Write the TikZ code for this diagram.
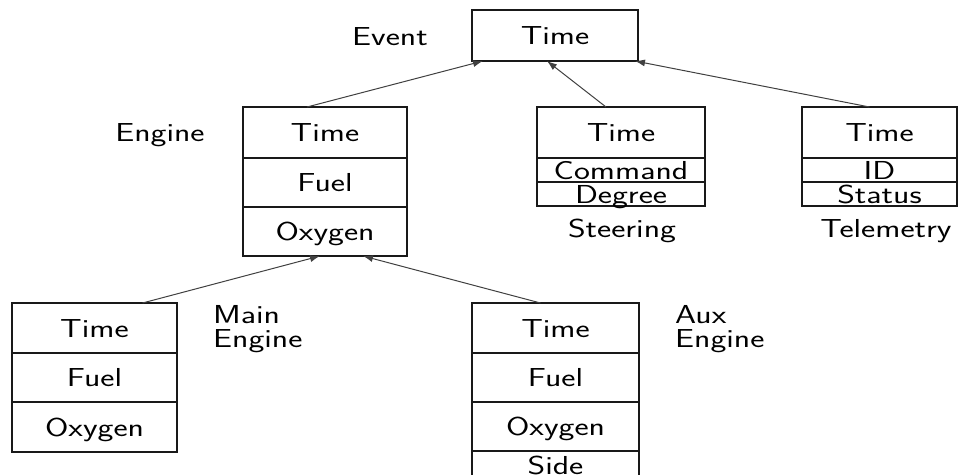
\documentclass[tikz,border=0pt]{standalone}
\usetikzlibrary{arrows.meta}
\newcommand\lbl{\sffamily\fontsize{26}{24}\selectfont}
\newcommand\hs[1]{\scalebox{1.3}[1]{#1}}
\begin{document}
\begin{tikzpicture}[x=1pt,y=-1pt,
  cell/.style={draw=black!90, line width=1.4pt, inner sep=0pt, outer sep=0pt, font=\lbl,
               text height=19pt, text depth=1pt},
  lab/.style={inner sep=0pt, font=\lbl, text=black},
  link/.style={draw=black!75, line width=1pt, -{Latex[length=10pt,width=7pt]}}]
\clip (0,0) rectangle (958,474);
\useasboundingbox (0,0) rectangle (958,474);
% Event
\node[cell, minimum width=166, minimum height=51] (ev) at (555,35.5) {\hs{Time}};
\node[lab, anchor=base] (evl) at (390,45) {\hs{Event}};
% Engine
\node[cell, minimum width=164, minimum height=51] (engT) at (325,132.5) {\hs{Time}};
\node[cell, minimum width=164, minimum height=49, anchor=north] (engF) at (engT.south) {\hs{Fuel}};
\node[cell, minimum width=164, minimum height=49, anchor=north] (engO) at (engF.south) {\hs{Oxygen}};
\node[lab, anchor=base] (engl) at (160,141) {\hs{Engine}};
% Steering
\node[cell, minimum width=168, minimum height=51] (stT) at (621,132.5) {\hs{Time}};
\node[cell, minimum width=168, minimum height=24, anchor=north] (stC) at (stT.south) {\hs{Command}};
\node[cell, minimum width=168, minimum height=24, anchor=north] (stD) at (stC.south) {\hs{Degree}};
\node[lab, anchor=base] (stl) at (622,237) {\hs{Steering}};
% Telemetry
\node[cell, minimum width=155, minimum height=51] (teT) at (879.5,132.5) {\hs{Time}};
\node[cell, minimum width=155, minimum height=24, anchor=north] (teI) at (teT.south) {\hs{ID}};
\node[cell, minimum width=155, minimum height=24, anchor=north] (teS) at (teI.south) {\hs{Status}};
\node[lab, anchor=base] (tel) at (886,237) {\hs{Telemetry}};
% Main Engine
\node[cell, minimum width=165, minimum height=50] (maT) at (94.5,328) {\hs{Time}};
\node[cell, minimum width=165, minimum height=49, anchor=north] (maF) at (maT.south) {\hs{Fuel}};
\node[cell, minimum width=165, minimum height=50, anchor=north] (maO) at (maF.south) {\hs{Oxygen}};
\node[lab, anchor=north west, align=left] (mal) at (213,305) {\hs{Main}\\\hs{Engine}};
% Aux Engine
\node[cell, minimum width=167, minimum height=50] (auT) at (555.5,328) {\hs{Time}};
\node[cell, minimum width=167, minimum height=49, anchor=north] (auF) at (auT.south) {\hs{Fuel}};
\node[cell, minimum width=167, minimum height=49, anchor=north] (auO) at (auF.south) {\hs{Oxygen}};
\node[cell, minimum width=167, minimum height=28, anchor=north] (auS) at (auO.south) {\hs{Side}};
\node[lab, anchor=north west, align=left] (aul) at (675,305) {\hs{Aux}\\\hs{Engine}};
% links
\draw[link] ([xshift=-18pt]engT.north) -- ([xshift=11pt]ev.south west);
\draw[link] ([xshift=-15pt]stT.north) -- ([xshift=-8pt]ev.south);
\draw[link] ([xshift=-10pt]teT.north) -- ([xshift=-3pt]ev.south east);
\draw[link] ([xshift=48pt]maT.north) -- ([xshift=-5pt]engO.south);
\draw[link] ([xshift=-15pt]auT.north) -- ([xshift=38pt]engO.south);
\end{tikzpicture}
\end{document}
